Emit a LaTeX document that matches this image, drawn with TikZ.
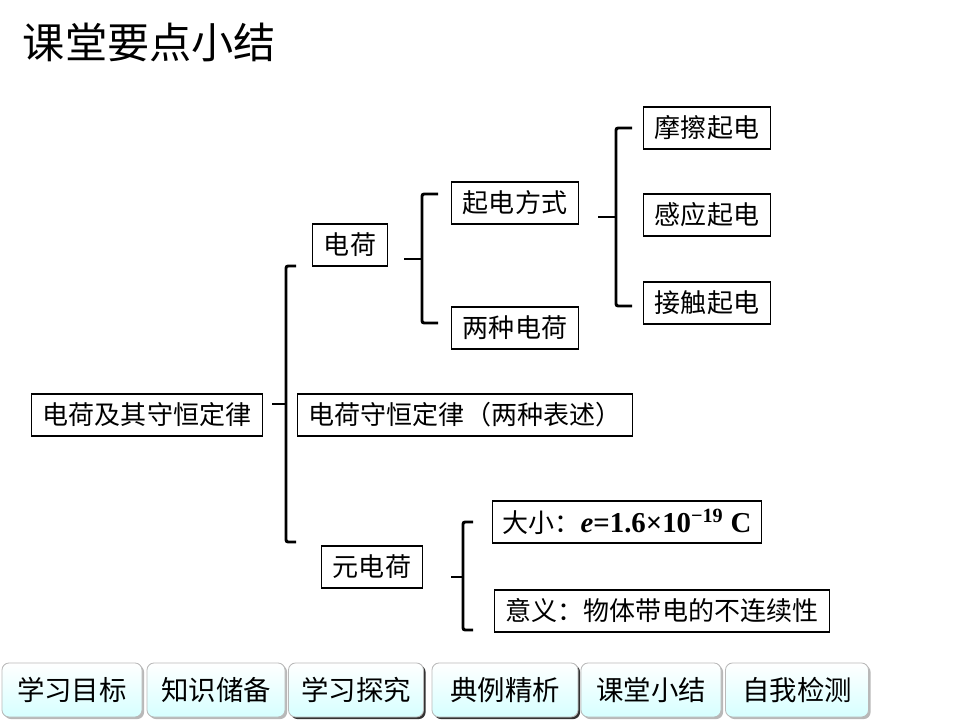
\documentclass[tikz,border=0pt]{standalone}
\usepackage{fontspec}
\setmainfont{Liberation Serif}
\newfontfamily\cjk{Noto Sans CJK SC}
\usetikzlibrary{shadows}

\begin{document}
\begin{tikzpicture}[
  x=0.025cm, y=-0.025cm,
  kbox/.style={draw, line width=0.8pt, font=\cjk\fontsize{18.5}{20}\selectfont,
               minimum height=1.05cm, inner xsep=0.28cm, inner ysep=0pt},
  brk/.style={line width=2.1pt, rounded corners=1.5pt},
  btn/.style={rounded corners=5pt, draw=gray!55, line width=0.6pt,
              top color=white, bottom color=cyan!16, minimum height=1.35cm,
              font=\cjk\fontsize{19.5}{20}\selectfont, inner sep=0pt},
]
  \useasboundingbox (0,0) rectangle (960,720);

  % Title
  \node[font=\cjk\fontsize{30}{32}\selectfont, anchor=west] (title) at (18,42) {课堂要点小结};

  % Root and second level
  \node[kbox] (total) at (147,415) {电荷及其守恒定律};
  \node[kbox] (q)     at (350,245) {电荷};
  \node[kbox] (law)   at (465,415) {电荷守恒定律（两种表述）};
  \node[kbox] (e0)    at (372,567) {元电荷};

  % Charge branch
  \node[kbox] (way)   at (515,203) {起电方式};
  \node[kbox] (two)   at (515,328) {两种电荷};
  \node[kbox] (fric)  at (707,128) {摩擦起电};
  \node[kbox] (ind)   at (707,215) {感应起电};
  \node[kbox] (touch) at (707,303) {接触起电};

  % Elementary charge branch
  \node[kbox, anchor=west, inner xsep=0.25cm] (size) at (492,522)
    {大小：{\rmfamily\bfseries\fontsize{20.5}{22}\selectfont
      \textit{e}=1.6×10\textsuperscript{−19} C}};
  \node[kbox] (mean)  at (662,611) {意义：物体带电的不连续性};

  % Bracket knots
  \coordinate (k1) at (286,404);
  \coordinate (k2) at (422,259);
  \coordinate (k3) at (616,217);
  \coordinate (k4) at (463,577);

  \draw[brk] (296,266) -| (k1) |- (296,542);
  \draw[brk] (272,404) -- (k1);
  \draw[brk] (438,194) -| (k2) |- (438,323);
  \draw[brk] (404,259) -- (k2);
  \draw[brk] (632,128) -| (k3) |- (632,306);
  \draw[brk] (598,217) -- (k3);
  \draw[brk] (473,522) -| (k4) |- (473,630);
  \draw[brk] (451,577) -- (k4);

  % Navigation buttons
  \foreach \cx/\w/\lab/\sc [count=\i] in {72/140/学习目标/gray!70, 216/138/知识储备/gray!70,
      356/135/学习探究/black, 505/146/典例精析/black,
      651/140/课堂小结/gray!70, 797/143/自我检测/gray!70}
  {
    \node[btn, minimum width=\w*0.025cm,
          drop shadow={fill=\sc, opacity=0.8, shadow xshift=1.5pt, shadow yshift=-1.5pt}]
      (b\i) at (\cx,690) {\lab};
  }
\end{tikzpicture}
\end{document}
